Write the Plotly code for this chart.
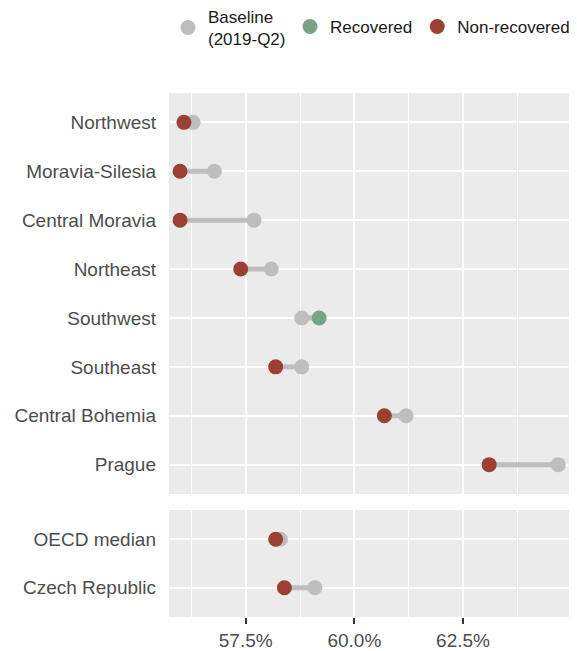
import plotly.graph_objects as go
from plotly.subplots import make_subplots

# Top panel regions (top to bottom)
regions = ["Northwest", "Moravia-Silesia", "Central Moravia", "Northeast",
           "Southwest", "Southeast", "Central Bohemia", "Prague"]
region_baseline = [56.29, 56.78, 57.69, 58.09, 58.79, 58.79, 61.19, 64.69]
region_latest = [56.08, 55.99, 55.99, 57.385, 59.19, 58.19, 60.69, 63.10]
region_status = ["Non-recovered", "Non-recovered", "Non-recovered", "Non-recovered",
                 "Recovered", "Non-recovered", "Non-recovered", "Non-recovered"]

# Bottom panel (top to bottom)
aggregates = ["OECD median", "Czech Republic"]
agg_baseline = [58.30, 59.09]
agg_latest = [58.19, 58.39]
agg_status = ["Non-recovered", "Non-recovered"]

x_ticks = [57.5, 60.0, 62.5]

GREY = "#BEBEBE"
GREEN = "#78A387"
RED = "#9C4034"
colors = {"Recovered": GREEN, "Non-recovered": RED}
FONT = "Liberation Sans"

fig = make_subplots(rows=2, cols=1, shared_xaxes=True, vertical_spacing=0.0)

legend_done = set()

def add_panel(cats, base, latest, status, row):
    sx, sy = [], []
    for c, b, l in zip(cats, base, latest):
        sx += [b, l, None]
        sy += [c, c, None]
    fig.add_trace(go.Scatter(x=sx, y=sy, mode="lines", line=dict(color=GREY, width=5),
                             showlegend=False, hoverinfo="skip"), row=row, col=1)
    fig.add_trace(go.Scatter(x=base, y=cats, mode="markers",
                             marker=dict(color=GREY, size=15),
                             name="Baseline<br>(2019-Q2)", legend="legend",
                             showlegend=("base" not in legend_done)), row=row, col=1)
    legend_done.add("base")
    for st, rank in [("Recovered", 2), ("Non-recovered", 3)]:
        xs = [l for l, s in zip(latest, status) if s == st]
        ys = [c for c, s in zip(cats, status) if s == st]
        fig.add_trace(go.Scatter(x=xs, y=ys, mode="markers",
                                 marker=dict(color=colors[st], size=15),
                                 name=st, legendrank=rank, legend="legend2",
                                 showlegend=(st not in legend_done)), row=row, col=1)
        legend_done.add(st)

add_panel(regions, region_baseline, region_latest, region_status, 1)
add_panel(aggregates, agg_baseline, agg_latest, agg_status, 2)

# the page body has an 8px margin, so the figure is drawn at (8, 8)
OFF = 8
W, H = 577 - OFF, 651 - OFF
left_px, right_px = 169 - OFF, 569 - OFF
top_px, bot_px = 93 - OFF, 617 - OFF
pw = right_px - left_px
ph = bot_px - top_px

legend_common = dict(orientation="h", xref="paper", yref="paper",
                     xanchor="left", yanchor="top",
                     font=dict(family=FONT, size=17, color="#1A1A1A"),
                     itemwidth=30, valign="middle", traceorder="normal",
                     bgcolor="rgba(0,0,0,0)")
fig.update_layout(
    width=W, height=H,
    margin=dict(l=left_px, r=W - right_px, t=top_px, b=H - bot_px, pad=0,
                autoexpand=False),
    paper_bgcolor="white", plot_bgcolor="#EBEBEB",
    font=dict(family=FONT, size=19, color="#4D4D4D"),
    legend=dict(**legend_common, x=(160 - left_px) / pw,
                y=1 + (top_px - 1 + 10) / ph),
    legend2=dict(**legend_common, x=(282 - left_px) / pw,
                 y=1 + (top_px - 1) / ph),
    hovermode=False,
)

dom1 = [(bot_px - (494 - OFF)) / ph, 1.0]
dom2 = [0.0, (bot_px - (510 - OFF)) / ph]

xcommon = dict(range=[55.736, 64.937], tickvals=x_ticks,
               ticktext=[f"{v:.1f}%" for v in x_ticks],
               showgrid=True, gridcolor="white", gridwidth=2,
               minor=dict(tickvals=[56.25, 58.75, 61.25, 63.75], showgrid=True,
                          gridcolor="white", gridwidth=1),
               zeroline=False, showline=False, automargin=False)
fig.update_xaxes(**xcommon, row=1, col=1, showticklabels=False, ticks="")
fig.update_xaxes(**xcommon, row=2, col=1, ticks="outside", ticklen=6, tickwidth=2,
                 tickcolor="#333333", tickfont=dict(size=19, color="#4D4D4D"))

ycommon = dict(type="category", categoryorder="array", showgrid=True,
               gridcolor="white", gridwidth=2, zeroline=False, ticks="",
               ticklabelstandoff=12, automargin=False)
fig.update_yaxes(**ycommon, row=1, col=1, domain=dom1,
                 categoryarray=list(reversed(regions)),
                 range=[-0.6, len(regions) - 0.4])
fig.update_yaxes(**ycommon, row=2, col=1, domain=dom2,
                 categoryarray=list(reversed(aggregates)),
                 range=[-0.6, len(aggregates) - 0.4])

fig.write_html("out.html")
